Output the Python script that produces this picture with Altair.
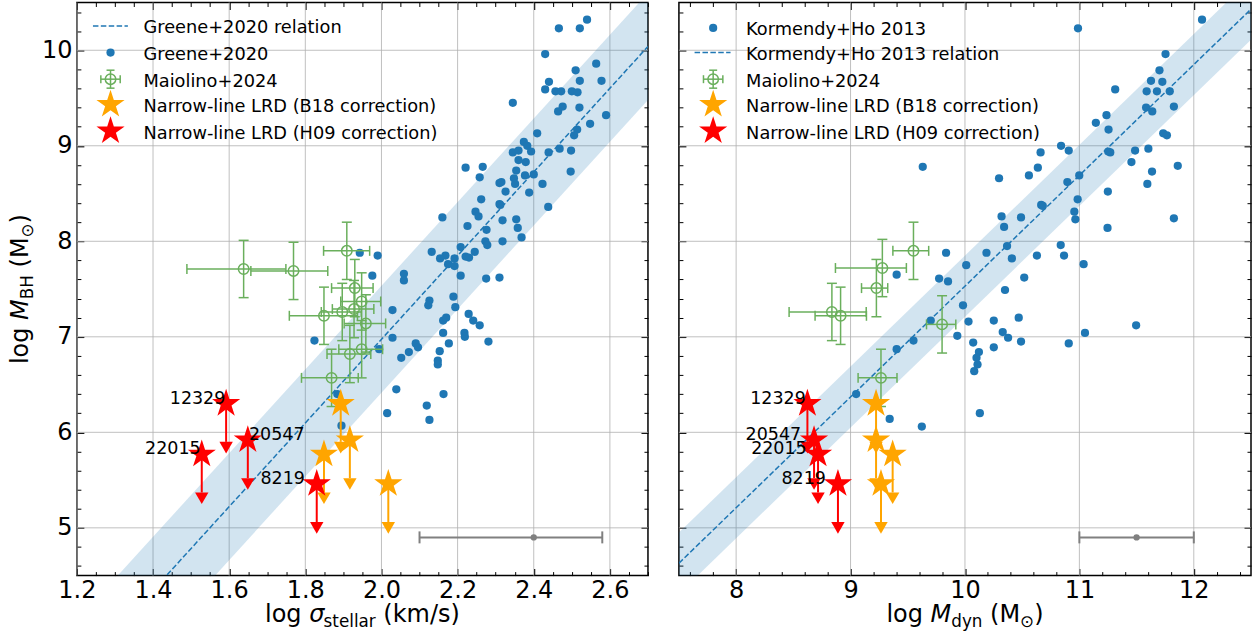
import altair as alt
import pandas as pd
import numpy as np

FONT = "DejaVu Sans"
BLUE = "#1f77b4"
ORANGE = "#ffa500"
RED = "#ff0000"
GREEN = "#6aaf5c"
GRAY = "#808080"
GRID = "#b0b0b0"
TICK_FS = 24
TITLE_FS = 24
LEG_FS = 17.8
ANN_FS = 17.5
DOT = 68

# ---------------- data: left panel (log sigma_stellar) ----------------
greene_sigma = [2.540, 2.466, 2.521, 2.430, 2.564, 2.510, 2.440, 2.521, 2.578, 2.430,
                2.457, 2.472, 2.500, 2.515, 2.345, 2.476, 2.464, 2.520, 2.590, 2.548,
                2.514, 2.506, 2.409, 2.374, 2.383, 2.393, 2.345, 2.360, 2.439, 2.468,
                2.498, 2.379, 2.360, 2.221, 2.266, 2.354, 2.377, 2.400, 2.497, 2.258,
                2.348, 2.310, 2.315, 2.351, 2.423, 2.326, 2.388, 2.262, 2.310, 2.312,
                2.438, 2.160, 2.247, 2.255, 2.226, 2.318, 2.354, 2.358, 2.276, 2.368,
                2.273, 2.318, 2.278, 2.208, 2.132, 2.168, 2.154, 2.192, 2.221, 2.230,
                2.245, 2.175, 2.192, 2.059, 2.059, 2.208, 2.275, 2.310, 2.126, 2.189,
                1.943, 1.990, 1.976, 2.029, 1.824, 2.029, 1.994, 2.052, 2.072, 2.039,
                2.015, 1.884, 2.119, 2.163, 2.126, 1.895, 2.123, 2.194, 2.229, 2.241,
                2.258, 2.162, 2.170, 2.162, 2.218, 2.219, 2.281, 2.177, 2.090, 2.096,
                2.153, 2.148, 2.148]
greene_mbh = [10.32, 10.23, 10.23, 9.96, 9.86, 9.79, 9.67, 9.68, 9.68, 9.59,
              9.57, 9.57, 9.57, 9.56, 9.45, 9.41, 9.36, 9.40, 9.32, 9.23,
              9.17, 9.11, 9.13, 9.04, 9.00, 8.94, 8.93, 8.95, 8.93, 8.97,
              8.95, 8.83, 8.85, 8.77, 8.78, 8.74, 8.69, 8.70, 8.73, 8.67,
              8.66, 8.61, 8.62, 8.60, 8.60, 8.52, 8.51, 8.44, 8.39, 8.38,
              8.36, 8.25, 8.31, 8.26, 8.16, 8.22, 8.23, 8.14, 8.12, 8.04,
              8.00, 8.00, 7.96, 7.94, 7.89, 7.85, 7.82, 7.82, 7.84, 7.83,
              7.89, 7.76, 7.74, 7.66, 7.59, 7.64, 7.61, 7.62, 7.38, 7.42,
              7.88, 7.85, 7.64, 7.28, 6.96, 6.99, 6.87, 6.78, 6.84, 6.45,
              6.20, 6.40, 6.28, 6.40, 6.13, 6.07, 7.33, 7.31, 7.24, 7.17,
              7.12, 7.17, 7.20, 7.04, 7.04, 7.00, 6.95, 6.93, 6.93, 6.89,
              6.85, 6.75, 6.71]
greene_rel_x = [1.2, 2.7]
greene_rel_y = [3.47, 10.04]
greene_scatter = 0.56

mai_sigma = [1.638, 1.769, 1.909, 1.930, 1.948, 1.849, 1.897, 1.928, 1.959, 1.917, 1.948, 1.869]
mai_sigma_lo = [0.149, 0.112, 0.061, 0.061, 0.055, 0.091, 0.055, 0.057, 0.057, 0.060, 0.060, 0.079]
mai_sigma_hi = [0.111, 0.090, 0.060, 0.048, 0.050, 0.088, 0.050, 0.052, 0.052, 0.055, 0.055, 0.070]
mai_mbh_s = [7.71, 7.69, 7.90, 7.51, 7.37, 7.22, 7.26, 7.29, 7.14, 6.82, 6.87, 6.57]

# ---------------- data: right panel (log M_dyn) ----------------
kh_mdyn = [9.631, 10.298, 10.661, 10.637, 10.559, 10.666, 10.680, 10.320, 10.490,
           12.072, 10.988, 11.753, 11.700, 11.626, 11.725, 11.313, 11.588, 11.678, 11.790,
           11.583, 11.637, 11.826, 11.237, 11.144, 11.255, 11.733, 11.765, 10.840, 10.907,
           11.252, 11.270, 11.487, 11.603, 11.455, 11.860, 11.635, 11.594, 10.895, 10.999,
           11.249, 10.985, 10.956, 10.965, 11.826,
           10.342, 11.246, 9.835, 10.188, 10.368, 10.410, 10.629, 10.837, 10.866, 11.037,
           10.011, 9.403, 9.774, 9.852, 10.518, 10.350, 9.983, 9.701, 10.031, 10.252,
           10.470, 10.330, 10.377, 10.490, 9.933, 10.072, 10.252, 10.122, 10.101, 10.110,
           10.081, 9.550, 9.403, 10.907, 11.049, 11.496, 9.049, 9.342, 9.623, 10.130]
kh_mbh = [8.78, 8.66, 8.93, 8.77, 8.69, 8.38, 8.37, 8.26, 8.25,
          10.32, 10.23, 9.96, 9.79, 9.68, 9.67, 9.59, 9.57, 9.57, 9.57,
          9.40, 9.36, 9.41, 9.32, 9.24, 9.17, 9.13, 9.11, 9.00, 8.95,
          8.94, 8.93, 8.95, 8.97, 8.83, 8.79, 8.73, 8.60, 8.62, 8.69,
          8.52, 8.44, 8.31, 8.23, 8.24,
          8.15, 8.14, 7.88, 7.88, 7.95, 7.82, 7.85, 7.96, 7.85, 7.76,
          7.75, 7.65, 7.61, 7.58, 7.62, 7.49, 7.33, 7.17, 7.16, 7.17,
          7.20, 7.05, 6.99, 6.95, 7.01, 6.94, 6.89, 6.84, 6.78, 6.71,
          6.64, 6.96, 6.87, 6.93, 7.04, 7.12, 6.40, 6.14, 6.06, 6.20]
kh_rel_x = [7.5, 12.5]
kh_rel_y = [4.63, 10.43]
kh_scatter = 0.32

mai_mdyn = [9.550, 9.278, 9.226, 8.837, 8.913, 9.800, 9.266]
mai_mdyn_lo = [0.180, 0.410, 0.130, 0.374, 0.223, 0.136, 0.200]
mai_mdyn_hi = [0.133, 0.210, 0.099, 0.300, 0.226, 0.120, 0.140]
mai_mbh_d = [7.90, 7.72, 7.51, 7.26, 7.22, 7.13, 6.57]
mai_mbh_err = 0.3

# ---------------- narrow-line LRDs ----------------
lrd_ids = ["12329", "22015", "20547", "8219"]
lrd_mbh = [6.30, 5.77, 5.92, 5.46]
lrd_limit = 0.4
lrd_sigma_h09 = [1.592, 1.528, 1.649, 1.830]
lrd_sigma_b18 = [1.893, 1.849, 1.917, 2.018]
lrd_mdyn_h09 = [8.623, 8.716, 8.681, 8.890]
lrd_mdyn_b18 = [9.223, 9.368, 9.223, 9.266]
lab_sigma_x = [1.590, 1.525, 1.652, 1.799]
lab_sigma_align = ["right", "right", "left", "right"]
lab_mdyn_x = [8.609, 8.617, 8.568, 8.785]
lab_mdyn_align = ["right", "right", "right", "right"]

# typical uncertainty bars
typ_sigma = {"x": [2.40], "lo": [2.10], "hi": [2.58], "y": [4.9]}
typ_mdyn = {"x": [11.5], "lo": [11.0], "hi": [12.0], "y": [4.9]}

# ticks
y_major = [5, 6, 7, 8, 9, 10]
sigma_major = [1.2, 1.4, 1.6, 1.8, 2.0, 2.2, 2.4, 2.6]
mdyn_major = [8, 9, 10, 11, 12]


def fine_ticks(lo, hi, step, majors):
    n = int(round((hi - lo) / step))
    vals = [round(lo + i * step, 3) for i in range(n + 1)]
    return [v for v in vals if all(abs(v - m) > 1e-6 for m in majors)]


y_minor = fine_ticks(4.6, 10.4, 0.2, y_major)
sigma_minor = fine_ticks(1.2, 2.7, 0.05, sigma_major)
mdyn_minor = fine_ticks(7.6, 12.4, 0.2, mdyn_major)

# star symbol path (unit box)
_ang = np.deg2rad(-90 + 36 * np.arange(10))
_rad = np.where(np.arange(10) % 2 == 0, 1.0, 0.382)
STAR = "M" + " L".join(f"{r*np.cos(a):.4f},{r*np.sin(a):.4f}" for r, a in zip(_rad, _ang)) + " Z"
STAR_SIZE = 880

CW = {'l': .278, 'o': .612, 'g': .635, 's': .521, 't': .392, 'e': .615, 'a': .613, 'r': .411,
      '(': .390, ')': .390, 'k': .579, 'm': .974, '/': .337, 'M': .863, 'B': .686, 'H': .752,
      'd': .635, 'y': .592, 'n': .634, 'σ': .603, '⊙': .838}
ONE = pd.DataFrame({"k": [0]})


def twidth(s, fs):
    return sum(CW.get(c, 0.6) for c in s) * fs


def title_layers(pieces, center, base, vertical=False):
    total = sum(p[1] if p[0] == "gap" else twidth(p[0], p[1]) for p in pieces)
    pos = center + total / 2 if vertical else center - total / 2
    out = []
    for p in pieces:
        if p[0] == "gap":
            w = p[1]
        else:
            t, fs, italic, shift = p
            w = twidth(t, fs)
            mk = dict(text=t, fontSize=fs, font=FONT, fontStyle="italic" if italic else "normal",
                      align="left", baseline="alphabetic", color="black")
            if vertical:
                out.append(alt.Chart(ONE).mark_text(angle=270, **mk).encode(
                    x=alt.value(base + shift), y=alt.value(pos)))
            else:
                out.append(alt.Chart(ONE).mark_text(**mk).encode(
                    x=alt.value(pos), y=alt.value(base + shift)))
        pos = pos - w if vertical else pos + w
    return out


def legend_layers(rows, sym_x, lx0, lx1, text_x):
    out = []
    for kind, label, y in rows:
        if kind == "line":
            out.append(alt.Chart(ONE).mark_rule(color=BLUE, strokeWidth=1.5, strokeDash=[5.5, 2.4]).encode(
                x=alt.value(lx0), x2=alt.value(lx1), y=alt.value(y)))
        elif kind == "dot":
            out.append(alt.Chart(ONE).mark_circle(color=BLUE, size=DOT, opacity=1).encode(
                x=alt.value(sym_x), y=alt.value(y)))
        elif kind == "mai":
            g = dict(color=GREEN, strokeWidth=1.5)
            out += [
                alt.Chart(ONE).mark_rule(**g).encode(x=alt.value(sym_x - 9.7), x2=alt.value(sym_x + 9.7), y=alt.value(y)),
                alt.Chart(ONE).mark_rule(**g).encode(x=alt.value(sym_x), y=alt.value(y - 9), y2=alt.value(y + 9)),
                alt.Chart(ONE).mark_rule(**g).encode(x=alt.value(sym_x - 9.7), y=alt.value(y - 4), y2=alt.value(y + 4)),
                alt.Chart(ONE).mark_rule(**g).encode(x=alt.value(sym_x + 9.7), y=alt.value(y - 4), y2=alt.value(y + 4)),
                alt.Chart(ONE).mark_rule(**g).encode(x=alt.value(sym_x - 4), x2=alt.value(sym_x + 4), y=alt.value(y - 9)),
                alt.Chart(ONE).mark_rule(**g).encode(x=alt.value(sym_x - 4), x2=alt.value(sym_x + 4), y=alt.value(y + 9)),
                alt.Chart(ONE).mark_point(shape="circle", filled=False, color=GREEN, size=110, strokeWidth=1.5, opacity=1).encode(
                    x=alt.value(sym_x), y=alt.value(y)),
            ]
        elif kind in ("b18", "h09"):
            col = ORANGE if kind == "b18" else RED
            out.append(alt.Chart(ONE).mark_point(shape=STAR, filled=True, color=col, size=STAR_SIZE, opacity=1).encode(
                x=alt.value(sym_x), y=alt.value(y)))
        out.append(alt.Chart(ONE).mark_text(text=label, align="left", baseline="alphabetic", fontSize=LEG_FS,
                                            font=FONT, color="black").encode(x=alt.value(text_x), y=alt.value(y + 7.5)))
    return out


def make_panel(cfg):
    W, H = cfg["W"], cfg["H"]
    xs = alt.Scale(domain=cfg["xdom"], nice=False, zero=False)
    ys = alt.Scale(domain=[4.5, 10.5], nice=False, zero=False)

    def X(f):
        return alt.X(f, type="quantitative", scale=xs, axis=None)

    def Y(f):
        return alt.Y(f, type="quantitative", scale=ys, axis=None)

    L = []
    # grid
    L.append(alt.Chart(pd.DataFrame({"v": cfg["xmaj"]})).mark_rule(color=GRID, strokeWidth=0.8).encode(x=X("v")))
    L.append(alt.Chart(pd.DataFrame({"v": y_major})).mark_rule(color=GRID, strokeWidth=0.8).encode(y=Y("v")))
    # relation band and line
    rel = pd.DataFrame({"x": cfg["rel_x"], "y": cfg["rel_y"]})
    rel["lo"] = rel["y"] - cfg["scatter"]
    rel["hi"] = rel["y"] + cfg["scatter"]
    L.append(alt.Chart(rel).mark_area(color=BLUE, opacity=0.2, clip=True).encode(
        x=X("x"), y=Y("lo"), y2=alt.Y2("hi")))
    L.append(alt.Chart(rel).mark_line(color=BLUE, strokeWidth=1.5, strokeDash=[5.5, 2.4], clip=True).encode(
        x=X("x"), y=Y("y")))
    # local sample
    sc = pd.DataFrame({"x": cfg["sx"], "y": cfg["sy"]})
    L.append(alt.Chart(sc).mark_circle(color=BLUE, size=DOT, opacity=1).encode(x=X("x"), y=Y("y")))
    # Maiolino+2024
    m = pd.DataFrame({"x": cfg["mx"], "y": cfg["my"]})
    m["xl"] = m["x"] - pd.Series(cfg["mxlo"])
    m["xh"] = m["x"] + pd.Series(cfg["mxhi"])
    m["yl"] = m["y"] - mai_mbh_err
    m["yh"] = m["y"] + mai_mbh_err
    mb = alt.Chart(m)
    g = dict(color=GREEN)
    L += [
        mb.mark_rule(strokeWidth=1.5, **g).encode(x=X("xl"), x2=alt.X2("xh"), y=Y("y")),
        mb.mark_rule(strokeWidth=1.5, **g).encode(x=X("x"), y=Y("yl"), y2=alt.Y2("yh")),
        mb.mark_tick(orient="vertical", size=10, thickness=1.5, opacity=1, **g).encode(x=X("xl"), y=Y("y")),
        mb.mark_tick(orient="vertical", size=10, thickness=1.5, opacity=1, **g).encode(x=X("xh"), y=Y("y")),
        mb.mark_tick(orient="horizontal", size=10, thickness=1.5, opacity=1, **g).encode(x=X("x"), y=Y("yl")),
        mb.mark_tick(orient="horizontal", size=10, thickness=1.5, opacity=1, **g).encode(x=X("x"), y=Y("yh")),
        mb.mark_point(shape="circle", filled=False, size=110, strokeWidth=1.5, opacity=1, **g).encode(x=X("x"), y=Y("y")),
    ]
    # LRDs (upper limits)
    s = pd.DataFrame({"id": lrd_ids, "y": lrd_mbh, "xb": cfg["b18"], "xh": cfg["h09"]})
    s["ylim"] = s["y"] - lrd_limit
    for col, color in (("xb", ORANGE), ("xh", RED)):
        sb = alt.Chart(s)
        L += [
            sb.mark_rule(color=color, strokeWidth=2).encode(x=X(col), y=Y("y"), y2=alt.Y2("ylim")),
            sb.mark_point(shape="triangle-down", filled=True, color=color, size=180, opacity=1, yOffset=5.8).encode(
                x=X(col), y=Y("ylim")),
            sb.mark_point(shape=STAR, filled=True, color=color, size=STAR_SIZE, opacity=1).encode(x=X(col), y=Y("y")),
        ]
    lab = pd.DataFrame({"id": lrd_ids, "x": cfg["labx"], "y": lrd_mbh, "al": cfg["laba"]})
    for a in ("left", "right"):
        L.append(alt.Chart(lab).transform_filter(alt.datum.al == a).mark_text(
            align=a, baseline="alphabetic", fontSize=ANN_FS, font=FONT, color="black").encode(
            x=X("x"), y=Y("y"), text="id:N"))
    # typical uncertainty
    t = alt.Chart(pd.DataFrame(cfg["typ"]))
    L += [
        t.mark_rule(color=GRAY, strokeWidth=2).encode(x=X("lo"), x2=alt.X2("hi"), y=Y("y")),
        t.mark_tick(orient="vertical", color=GRAY, size=12, thickness=2, opacity=1).encode(x=X("lo"), y=Y("y")),
        t.mark_tick(orient="vertical", color=GRAY, size=12, thickness=2, opacity=1).encode(x=X("hi"), y=Y("y")),
        t.mark_circle(color=GRAY, size=40, opacity=1).encode(x=X("x"), y=Y("y")),
    ]
    # legend
    L += legend_layers(cfg["legend"], cfg["leg_sym_x"], cfg["leg_line"][0], cfg["leg_line"][1], cfg["leg_text_x"])
    # axis titles
    L += title_layers(cfg["xtitle"], W / 2, H + 46)
    if cfg["ytitle"]:
        L += title_layers(cfg["ytitle"], H / 2, -49, vertical=True)

    # axes (inward ticks on all four sides)
    anchor = pd.DataFrame({"ax": cfg["typ"]["x"], "ay": cfg["typ"]["y"]})
    common = dict(domain=False, grid=False, title=None, tickColor="black")
    lab_common = dict(labelFontSize=TICK_FS, labelFont=FONT, labelColor="black", labelOverlap=False,
                      labelFlush=False)

    def ax_layer(xa, ya):
        return alt.Chart(anchor).mark_point(opacity=0).encode(
            x=alt.X("ax:Q", scale=xs, axis=xa), y=alt.Y("ay:Q", scale=ys, axis=ya))

    L += [
        ax_layer(alt.Axis(orient="bottom", values=cfg["xmaj"], format=cfg["xfmt"], tickSize=7, tickWidth=1.2,
                          offset=-7, labels=True, labelPadding=3, **common, **lab_common),
                 alt.Axis(orient="left", values=y_major, format="d", tickSize=7, tickWidth=1.2, offset=-7,
                          labels=cfg["ylabels"], labelPadding=5, **common, **lab_common)),
        ax_layer(alt.Axis(orient="bottom", values=cfg["xmin"], tickSize=4, tickWidth=1, offset=-4, labels=False, **common),
                 alt.Axis(orient="left", values=y_minor, tickSize=4, tickWidth=1, offset=-4, labels=False, **common)),
        ax_layer(alt.Axis(orient="top", values=cfg["xmaj"], tickSize=7, tickWidth=1.2, offset=-7, labels=False, **common),
                 alt.Axis(orient="right", values=y_major, tickSize=7, tickWidth=1.2, offset=-7, labels=False, **common)),
        ax_layer(alt.Axis(orient="top", values=cfg["xmin"], tickSize=4, tickWidth=1, offset=-4, labels=False, **common),
                 alt.Axis(orient="right", values=y_minor, tickSize=4, tickWidth=1, offset=-4, labels=False, **common)),
    ]
    return alt.layer(*L).resolve_axis(x="independent", y="independent").properties(width=W, height=H)


F = TITLE_FS
SUB = 0.7 * F
SH = 5
GAP = 0.318 * F

left_cfg = dict(
    W=572, H=574, xdom=[1.2, 2.7], xmaj=sigma_major, xmin=sigma_minor, xfmt=".1f", ylabels=True,
    sx=greene_sigma, sy=greene_mbh, rel_x=greene_rel_x, rel_y=greene_rel_y, scatter=greene_scatter,
    mx=mai_sigma, mxlo=mai_sigma_lo, mxhi=mai_sigma_hi, my=mai_mbh_s,
    b18=lrd_sigma_b18, h09=lrd_sigma_h09, labx=lab_sigma_x, laba=lab_sigma_align, typ=typ_sigma,
    legend=[("line", "Greene+2020 relation", 23.5), ("dot", "Greene+2020", 50.2),
            ("mai", "Maiolino+2024", 76.8), ("b18", "Narrow-line LRD (B18 correction)", 102.2),
            ("h09", "Narrow-line LRD (H09 correction)", 128.8)],
    leg_sym_x=33.7, leg_line=(16.1, 51.1), leg_text_x=66.7,
    xtitle=[("log", F, False, 0), ("gap", GAP), ("σ", F, True, 0), ("stellar", SUB, False, SH),
            ("gap", GAP), ("(km/s)", F, False, 0)],
    ytitle=[("log", F, False, 0), ("gap", GAP), ("M", F, True, 0), ("BH", SUB, False, SH),
            ("gap", GAP), ("(M", F, False, 0), ("⊙", SUB, False, SH), (")", F, False, 0)],
)
right_cfg = dict(
    W=573, H=574, xdom=[7.5, 12.5], xmaj=mdyn_major, xmin=mdyn_minor, xfmt="d", ylabels=False,
    sx=kh_mdyn, sy=kh_mbh, rel_x=kh_rel_x, rel_y=kh_rel_y, scatter=kh_scatter,
    mx=mai_mdyn, mxlo=mai_mdyn_lo, mxhi=mai_mdyn_hi, my=mai_mbh_d,
    b18=lrd_mdyn_b18, h09=lrd_mdyn_h09, labx=lab_mdyn_x, laba=lab_mdyn_align, typ=typ_mdyn,
    legend=[("dot", "Kormendy+Ho 2013", 25.5), ("line", "Kormendy+Ho 2013 relation", 50.2),
            ("mai", "Maiolino+2024", 76.8), ("b18", "Narrow-line LRD (B18 correction)", 102.2),
            ("h09", "Narrow-line LRD (H09 correction)", 128.8)],
    leg_sym_x=34.3, leg_line=(15.7, 51.7), leg_text_x=67.3,
    xtitle=[("log", F, False, 0), ("gap", GAP), ("M", F, True, 0), ("dyn", SUB, False, SH),
            ("gap", GAP), ("(M", F, False, 0), ("⊙", SUB, False, SH), (")", F, False, 0)],
    ytitle=None,
)

chart = alt.hconcat(make_panel(left_cfg), make_panel(right_cfg), spacing=27).properties(
    padding={"left": 8, "top": 0, "right": 0, "bottom": 0}, background="white"
).configure_view(stroke="black", strokeWidth=1.5)

chart.save("out.html", embed_options={"renderer": "svg", "actions": False})
